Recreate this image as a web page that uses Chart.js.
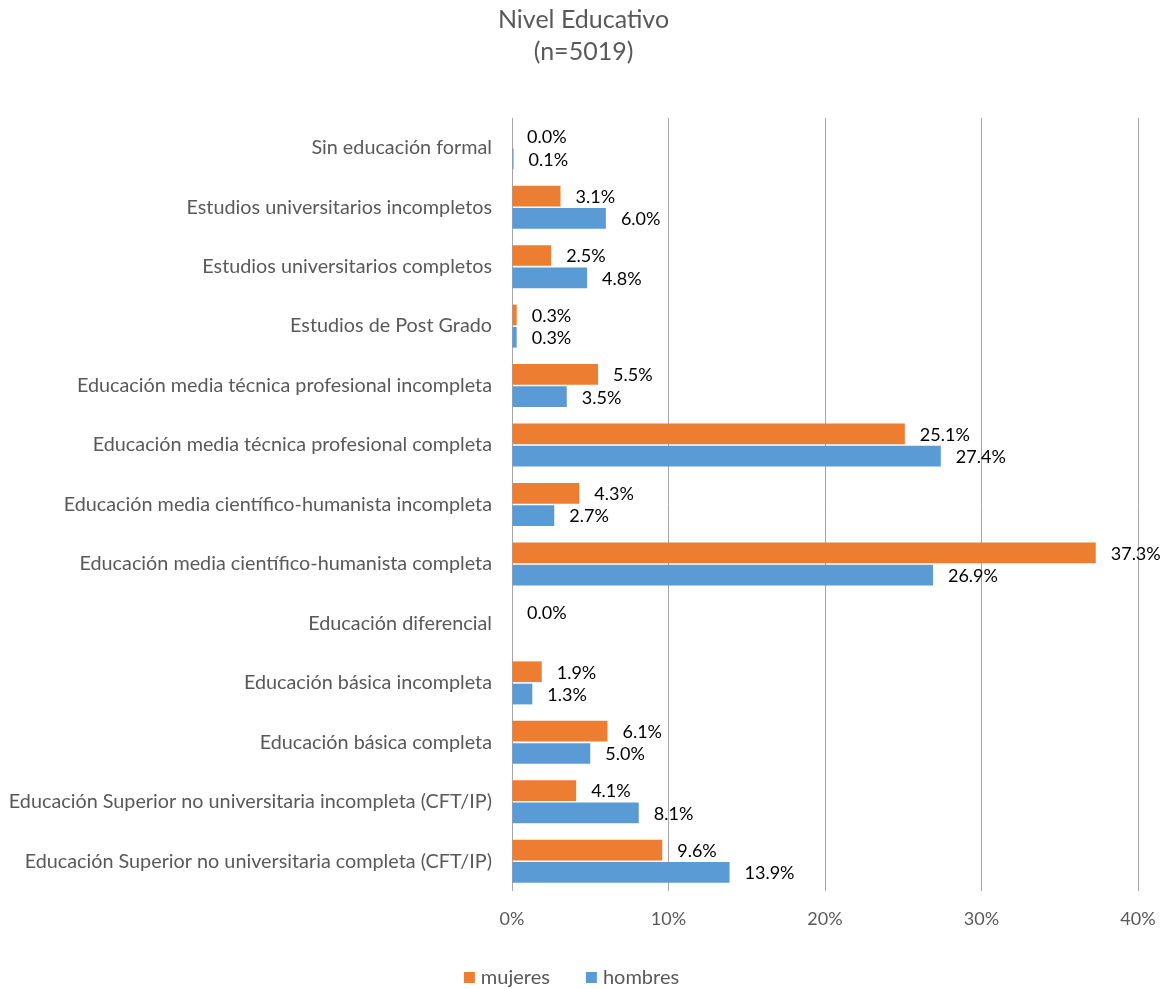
<!DOCTYPE html>
<html>
<head>
<meta charset="utf-8">
<script src="https://cdn.jsdelivr.net/npm/chart.js@4"></script>
<style>
  html, body { margin: 0; padding: 0; background: #fff; }
  #wrap { width: 1167px; height: 989px; }
</style>
</head>
<body>
<div id="wrap"><canvas id="nivelChart"></canvas></div>
<script>
// DATA
const categories = [
    'Sin educación formal',
    'Estudios universitarios incompletos',
    'Estudios universitarios completos',
    'Estudios de Post Grado',
    'Educación media técnica profesional incompleta',
    'Educación media técnica profesional completa',
    'Educación media científico-humanista incompleta',
    'Educación media científico-humanista completa',
    'Educación diferencial',
    'Educación básica incompleta',
    'Educación básica completa',
    'Educación Superior no universitaria incompleta (CFT/IP)',
    'Educación Superior no universitaria completa (CFT/IP)'
];
const mujeres = [0.0, 3.1, 2.5, 0.3, 5.5, 25.1, 4.3, 37.3, 0.0, 1.9, 6.1, 4.1, 9.6];
const hombres = [0.1, 6.0, 4.8, 0.3, 3.5, 27.4, 2.7, 26.9, null, 1.3, 5.0, 8.1, 13.9];
const xTicks = [0, 10, 20, 30, 40];

const FONT = 'Lato, "Liberation Sans", sans-serif';

// value labels at the end of each bar
const barLabels = {
    id: 'barLabels',
    afterDatasetsDraw(chart) {
        const ctx = chart.ctx;
        ctx.save();
        ctx.font = '18px ' + FONT;
        ctx.fillStyle = '#000';
        ctx.textAlign = 'left';
        ctx.textBaseline = 'middle';
        chart.data.datasets.forEach((ds, i) => {
            const meta = chart.getDatasetMeta(i);
            meta.data.forEach((bar, j) => {
                const v = ds.data[j];
                if (v === null || v === undefined) return;
                ctx.fillText(v.toFixed(1) + '%', bar.x + 15, bar.y + 1);
            });
        });
        ctx.restore();
    }
};

// legend under the axis, Excel style
const bottomLegend = {
    id: 'bottomLegend',
    afterDraw(chart) {
        const ctx = chart.ctx;
        const box = 11, gapText = 6, gapItem = 36, y = 978;
        ctx.save();
        ctx.font = '20px ' + FONT;
        const items = chart.data.datasets.map(ds => ({
            label: ds.label,
            color: ds.backgroundColor,
            w: ctx.measureText(ds.label).width
        }));
        let total = 0;
        items.forEach((it, i) => {
            total += box + gapText + it.w + (i < items.length - 1 ? gapItem : 0);
        });
        let x = chart.width / 2 - 12 - total / 2;
        ctx.textAlign = 'left';
        ctx.textBaseline = 'middle';
        items.forEach(it => {
            ctx.fillStyle = it.color;
            ctx.fillRect(x, y - 6, box, box);
            x += box + gapText;
            ctx.fillStyle = '#595959';
            ctx.fillText(it.label, x, y);
            x += it.w + gapItem;
        });
        ctx.restore();
    }
};

new Chart(document.getElementById('nivelChart'), {

    type: 'bar',

    data: {
        labels: categories,
        datasets: [
            {
                label: 'mujeres',
                data: mujeres,
                backgroundColor: '#ED7D31',
                categoryPercentage: 0.75,
                barPercentage: 0.93,
            },
            {
                label: 'hombres',
                data: hombres,
                backgroundColor: '#5B9BD5',
                categoryPercentage: 0.75,
                barPercentage: 0.93,
            }
        ]
    },

    options: {
        indexAxis: 'y',
        responsive: true,
        maintainAspectRatio: false,
        animation: false,

        layout: {
            padding: { top: 4, right: 0, bottom: 54, left: 0 }
        },

        plugins: {
            title: {
                display: true,
                text: ['Nivel Educativo', '(n=5019)'],
                color: '#595959',
                font: { family: FONT, size: 25, weight: 'normal', lineHeight: 1.28 },
                padding: { top: 0, bottom: 50 }
            },
            legend: { display: false },
            tooltip: { enabled: false }
        },

        scales: {
            x: {
                min: 0,
                max: 40,
                afterBuildTicks: (scale) => {
                    scale.ticks = xTicks.map(v => ({ value: v }));
                },
                afterFit: (scale) => {
                    scale.height = 44;
                    scale.paddingRight = 29;
                    scale.paddingLeft = 0;
                },
                ticks: {
                    color: '#595959',
                    font: { family: FONT, size: 18 },
                    padding: 17,
                    callback: (v) => v + '%'
                },
                grid: {
                    color: '#a6a6a6',
                    lineWidth: 1,
                    drawTicks: false
                },
                border: { display: false }
            },
            y: {
                afterFit: (scale) => { scale.width = 512; },
                ticks: {
                    color: '#595959',
                    font: { family: FONT, size: 19.8 },
                    padding: 20,
                    autoSkip: false
                },
                grid: { display: false, drawTicks: false },
                border: { display: false }
            }
        }
    },

    plugins: [barLabels, bottomLegend]
});
</script>
</body>
</html>
